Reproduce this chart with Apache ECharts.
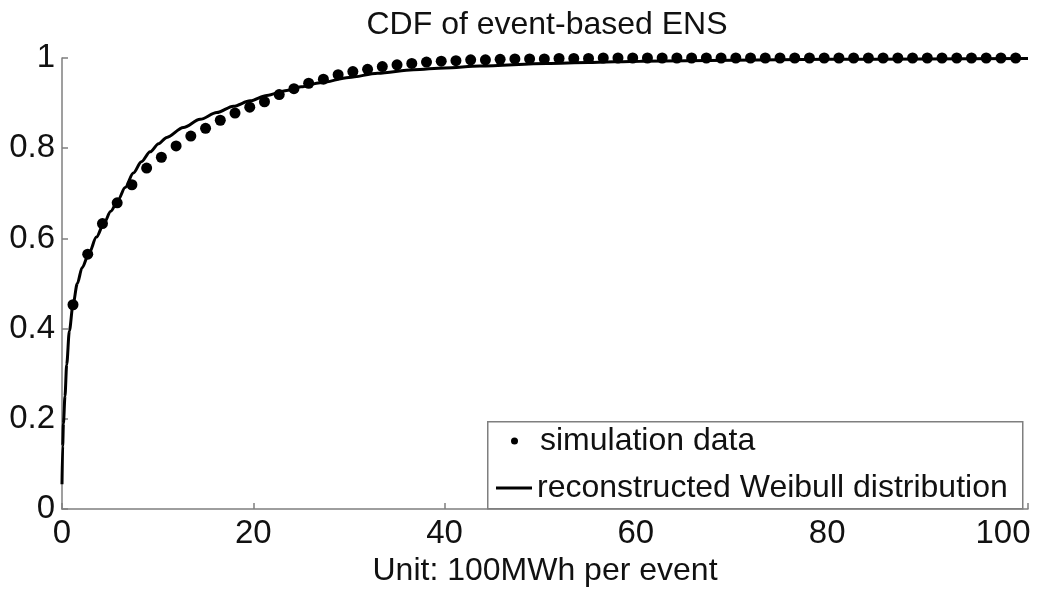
<!DOCTYPE html>
<html>
<head>
<meta charset="utf-8">
<script src="https://cdn.jsdelivr.net/npm/echarts@6/dist/echarts.min.js"></script>
<style>
html,body{margin:0;padding:0;background:#fff;}
#chart{width:1052px;height:592px;}
</style>
</head>
<body>
<div id="chart"></div>
<script>
var titleText = 'CDF of event-based ENS';
var xAxisName = 'Unit: 100MWh per event';
var seriesNames = ['simulation data', 'reconstructed Weibull distribution'];
var xTicks = [0, 20, 40, 60, 80, 100];
var yTicks = [0, 0.2, 0.4, 0.6, 0.8, 1];

var simX = [1.15, 2.69, 4.23, 5.77, 7.31, 8.85, 10.39, 11.93, 13.47, 15.01, 16.55, 18.09, 19.63, 21.17, 22.71, 24.25,
  25.79, 27.33, 28.87, 30.41, 31.95, 33.49, 35.03, 36.57, 38.11, 39.65, 41.19, 42.73, 44.27, 45.81, 47.35, 48.89,
  50.43, 51.97, 53.51, 55.05, 56.59, 58.13, 59.67, 61.21, 62.75, 64.29, 65.83, 67.37, 68.91, 70.45, 71.99, 73.53,
  75.07, 76.61, 78.15, 79.69, 81.23, 82.77, 84.31, 85.85, 87.39, 88.93, 90.47, 92.01, 93.55, 95.09, 96.63, 98.17, 99.71];
var simY = [0.453, 0.565, 0.633, 0.679, 0.719, 0.756, 0.780, 0.805, 0.827, 0.844, 0.862, 0.878, 0.891, 0.903, 0.919, 0.932,
  0.944, 0.953, 0.963, 0.970, 0.975, 0.981, 0.985, 0.988, 0.991, 0.993, 0.994, 0.996, 0.996, 0.997, 0.998, 0.998,
  0.998, 0.999, 0.999, 0.999, 1.0, 1.0, 1.0, 1.0, 1.0, 1.0, 1.0, 1.0, 1.0, 1.0, 1.0, 1.0,
  1.0, 1.0, 1.0, 1.0, 1.0, 1.0, 1.0, 1.0, 1.0, 1.0, 1.0, 1.0, 1.0, 1.0, 1.0, 1.0, 1.0];

var fitX = [0, 0.07, 0.15, 0.31, 0.49, 0.77, 1.15, 1.6, 2.1, 2.82, 3.6, 4.39, 5.1, 5.86, 6.6, 7.46, 8.3, 9.21, 10.1,
  10.95, 12.69, 14.44, 16.18, 17.92, 19.67, 21.41, 23.5, 25, 27, 30, 33, 36.75, 40, 43.7, 50.7, 55, 60.5, 70, 80, 90, 101];
var fitY = [0.055, 0.14, 0.19, 0.25, 0.32, 0.395, 0.453, 0.50, 0.535, 0.567, 0.603, 0.634, 0.66, 0.685, 0.713, 0.745,
  0.77, 0.792, 0.81, 0.824, 0.846, 0.864, 0.879, 0.893, 0.905, 0.917, 0.928, 0.936, 0.945, 0.957, 0.966, 0.974, 0.978,
  0.982, 0.988, 0.990, 0.993, 0.995, 0.997, 0.998, 0.999];

var simData = simX.map(function (x, i) { return [x, simY[i]]; });
var fitData = fitX.map(function (x, i) { return [x, fitY[i]]; });

var FONT = '"Liberation Sans", Arial, Helvetica, sans-serif';
var axisGrey = '#7f7f7f';
var lastTick = xTicks[xTicks.length - 1];

var chart = echarts.init(document.getElementById('chart'), null, {renderer: 'canvas'});
chart.setOption({
  animation: false,
  backgroundColor: '#ffffff',
  textStyle: {fontFamily: FONT},
  title: {
    text: titleText,
    left: 547, textAlign: 'center',
    top: 9, padding: 0,
    textStyle: {fontFamily: FONT, fontSize: 32, fontWeight: 'normal', color: '#111'}
  },
  grid: {left: 62, right: 24, top: 58, bottom: 79, containLabel: false},
  xAxis: {
    type: 'value', min: xTicks[0], max: 101, interval: xTicks[1] - xTicks[0],
    name: xAxisName, nameLocation: 'middle', nameGap: 40,
    nameTextStyle: {fontFamily: FONT, fontSize: 32, color: '#111'},
    axisLine: {show: true, lineStyle: {color: axisGrey, width: 1.5}},
    axisTick: {show: true, inside: true, length: 6, lineStyle: {color: axisGrey, width: 1.5}},
    axisLabel: {fontFamily: FONT, fontSize: 33, color: '#111', margin: 8,
      formatter: function (v) {
        if (xTicks.indexOf(v) < 0) return '';
        return v === lastTick ? '{m|' + v + '}' : String(v);
      },
      rich: {m: {fontFamily: FONT, fontSize: 33, color: '#111', width: 86, align: 'left'}}
    },
    splitLine: {show: false}
  },
  yAxis: {
    type: 'value', min: yTicks[0], max: yTicks[yTicks.length - 1], interval: yTicks[1] - yTicks[0],
    axisLine: {show: true, lineStyle: {color: axisGrey, width: 1.5}},
    axisTick: {show: true, inside: true, length: 6, lineStyle: {color: axisGrey, width: 1.5}},
    axisLabel: {fontFamily: FONT, fontSize: 33, color: '#111', margin: 7},
    splitLine: {show: false}
  },
  legend: [{
    data: [seriesNames[0]],
    orient: 'vertical', left: 511, top: 425, padding: 0,
    icon: 'circle', itemWidth: 7, itemHeight: 7,
    selectedMode: false,
    itemStyle: {color: '#000', opacity: 1},
    textStyle: {fontFamily: FONT, fontSize: 32, color: '#111', padding: [0, 0, 0, 17]}
  }, {
    data: [seriesNames[1]],
    orient: 'vertical', left: 496, top: 472, padding: 0,
    icon: 'rect', itemWidth: 36, itemHeight: 3,
    selectedMode: false,
    itemStyle: {color: '#000'},
    textStyle: {fontFamily: FONT, fontSize: 32, color: '#111', padding: [0, 0, 0, 0]}
  }],
  graphic: [{
    type: 'rect', left: 487, top: 421, z: 3,
    shape: {width: 535, height: 87},
    style: {fill: '#ffffff', stroke: axisGrey, lineWidth: 1.5}
  }],
  series: [{
    name: seriesNames[0], type: 'scatter', data: simData,
    symbol: 'circle', symbolSize: 11, clip: false,
    itemStyle: {color: '#000', opacity: 1}, z: 3
  }, {
    name: seriesNames[1], type: 'line', data: fitData,
    showSymbol: false, symbol: 'none', smooth: 0.3, smoothMonotone: 'x', clip: false,
    lineStyle: {color: '#000', width: 3}, itemStyle: {color: '#000'}, z: 2
  }]
});
</script>
</body>
</html>
